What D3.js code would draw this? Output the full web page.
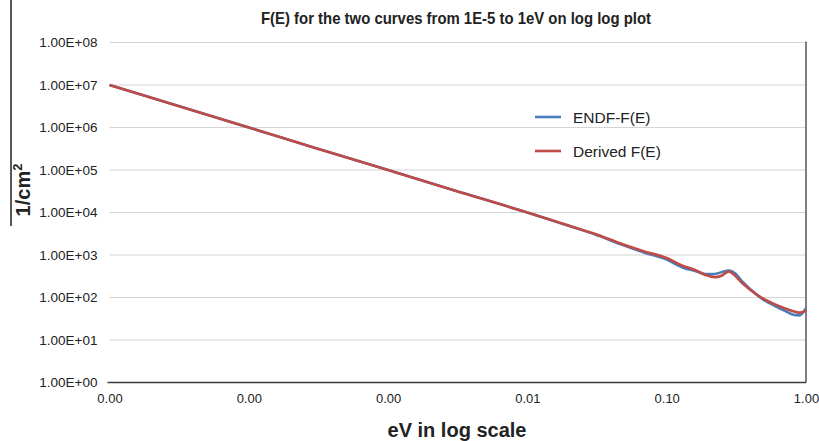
<!DOCTYPE html>
<html>
<head>
<meta charset="utf-8">
<script src="https://cdn.jsdelivr.net/npm/d3@7"></script>
<style>
  html, body { margin: 0; padding: 0; background: #fff; }
  svg { display: block; font-family: "Liberation Sans", Arial, sans-serif; }
</style>
</head>
<body>
<svg id="chart" width="819" height="441"></svg>
<script>
// ---- data ----
const energies = [1e-5, 3e-5, 1e-4, 3e-4, 1e-3, 3e-3, 1e-2, 2e-2, 3e-2, 5e-2, 7e-2, 0.1,
  0.13, 0.16, 0.19, 0.22, 0.25, 0.28, 0.31, 0.35, 0.4, 0.5, 0.6, 0.7, 0.8, 0.9, 1.0];
const endfValues = [1.0e7, 3.33e6, 1.0e6, 3.3e5, 1.0e5, 3.3e4, 1.0e4, 4.8e3, 3.1e3, 1.65e3, 1.12e3, 780,
  510, 420, 355, 355, 400, 430, 370, 235, 155, 87, 63, 49, 40, 38, 56];
const derivedValues = [1.0e7, 3.33e6, 1.0e6, 3.3e5, 1.0e5, 3.3e4, 1.0e4, 4.9e3, 3.2e3, 1.72e3, 1.2e3, 850,
  560, 445, 340, 300, 330, 410, 325, 215, 150, 91, 69, 56, 48, 44, 50];
const seriesNames = ["ENDF-F(E)", "Derived F(E)"];
const seriesColors = ["#4a7ebb", "#be4b48"];
const xTickValues = [1e-5, 1e-4, 1e-3, 1e-2, 1e-1, 1];
const xTickLabels = ["0.00", "0.00", "0.00", "0.01", "0.10", "1.00"];
const yTickValues = [1, 10, 100, 1e3, 1e4, 1e5, 1e6, 1e7, 1e8];
const yTickLabels = ["1.00E+00", "1.00E+01", "1.00E+02", "1.00E+03", "1.00E+04",
  "1.00E+05", "1.00E+06", "1.00E+07", "1.00E+08"];
const titleText = "F(E) for the two curves from 1E-5 to 1eV on log log plot";
const xTitle = "eV in log scale";

// ---- layout ----
const svg = d3.select("#chart");
const plotL = 109.5, plotR = 806, plotT = 42.5, plotB = 382.5;

const x = d3.scaleLog().domain([1e-5, 1]).range([plotL, plotR]);
const y = d3.scaleLog().domain([1, 1e8]).range([plotB, plotT]);

// gridlines
svg.append("g").selectAll("line")
  .data(yTickValues.filter(v => v > 1))
  .join("line")
  .attr("x1", plotL).attr("x2", plotR)
  .attr("y1", d => y(d)).attr("y2", d => y(d))
  .attr("stroke", "#d4d4d4").attr("stroke-width", 1.2);

// right vertical line
svg.append("line")
  .attr("x1", plotR).attr("x2", plotR)
  .attr("y1", plotT - 1).attr("y2", plotB)
  .attr("stroke", "#7f7f7f").attr("stroke-width", 2);

// x axis
const xAxis = d3.axisBottom(x)
  .tickValues(xTickValues)
  .tickFormat((d, i) => xTickLabels[i])
  .tickSize(0).tickPadding(11);
const gx = svg.append("g").attr("transform", `translate(0,${plotB})`).call(xAxis);
gx.select(".domain").attr("stroke", "#3a3a3a").attr("stroke-width", 1.5)
  .attr("d", `M${plotL - 2},0H${plotR}`);
gx.selectAll("text").attr("font-size", 13).attr("fill", "#222")
  .attr("font-family", "Liberation Sans, Arial, sans-serif");

// y axis
const yAxis = d3.axisLeft(y)
  .tickValues(yTickValues)
  .tickFormat((d, i) => yTickLabels[i])
  .tickSize(0).tickPadding(12);
const gy = svg.append("g").attr("transform", `translate(${plotL},0)`).call(yAxis);
gy.select(".domain").remove();
gy.selectAll("text").attr("font-size", 13.5).attr("fill", "#222")
  .attr("font-family", "Liberation Sans, Arial, sans-serif");

// lines
const line = d3.line()
  .x(d => x(d[0])).y(d => y(d[1]))
  .curve(d3.curveMonotoneX);
const seriesData = [endfValues, derivedValues];
seriesData.forEach((vals, i) => {
  svg.append("path")
    .datum(energies.map((e, j) => [e, vals[j]]))
    .attr("fill", "none")
    .attr("stroke", seriesColors[i])
    .attr("stroke-width", 2.6)
    .attr("stroke-linejoin", "round")
    .attr("d", line);
});

// legend
const legY = [117, 151];
seriesNames.forEach((name, i) => {
  svg.append("line")
    .attr("x1", 535).attr("x2", 561)
    .attr("y1", legY[i]).attr("y2", legY[i])
    .attr("stroke", seriesColors[i]).attr("stroke-width", 2.6);
  svg.append("text")
    .attr("x", 573).attr("y", legY[i] + 5.5)
    .attr("font-size", 15.5).attr("fill", "#222")
    .text(name);
});

// title
svg.append("text")
  .attr("x", 456).attr("y", 24)
  .attr("text-anchor", "middle")
  .attr("font-size", 17).attr("font-weight", "bold").attr("fill", "#222")
  .attr("textLength", 390).attr("lengthAdjust", "spacingAndGlyphs")
  .text(titleText);

// x title
svg.append("text")
  .attr("x", 457).attr("y", 437)
  .attr("text-anchor", "middle")
  .attr("font-size", 20).attr("font-weight", "bold").attr("fill", "#222")
  .text(xTitle);

// y title
const yt = svg.append("text")
  .attr("transform", "translate(30,190) rotate(-90)")
  .attr("text-anchor", "middle")
  .attr("font-size", 20).attr("font-weight", "bold").attr("fill", "#222");
yt.append("tspan").text("1/cm");
yt.append("tspan").attr("font-size", 13).attr("dy", -8).text("2");

// stray frame line on left
svg.append("line")
  .attr("x1", 11).attr("x2", 11).attr("y1", 0).attr("y2", 226)
  .attr("stroke", "#222").attr("stroke-width", 1.5);
</script>
</body>
</html>
